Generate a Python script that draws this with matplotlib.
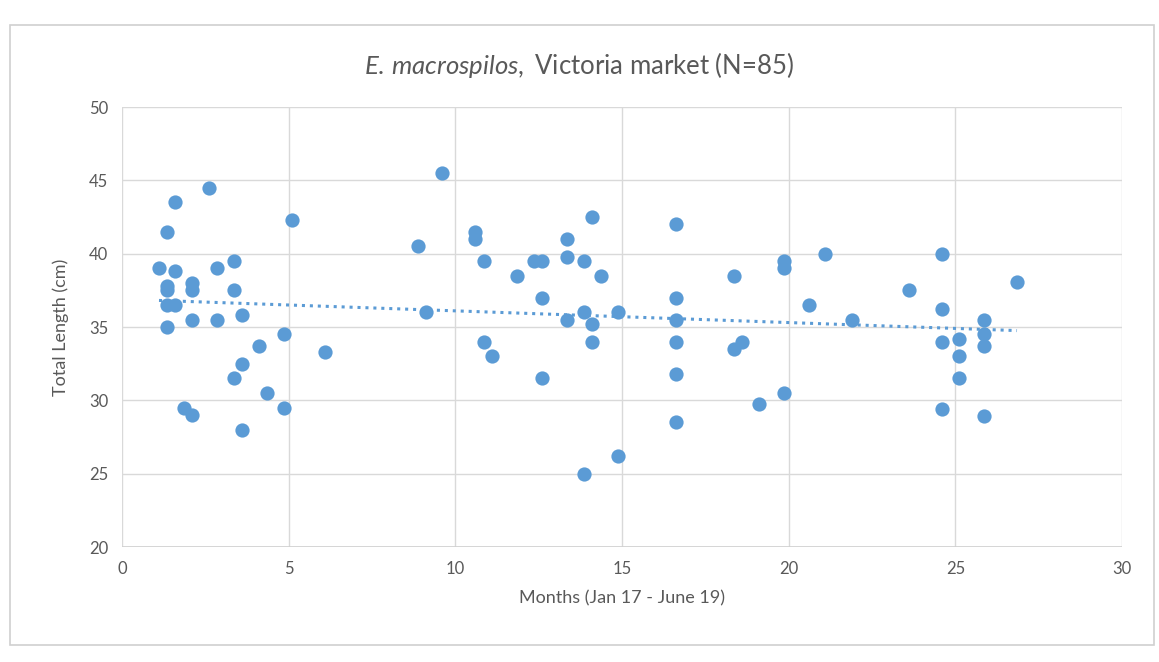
import numpy as np
import matplotlib
matplotlib.use("Agg")
import matplotlib.pyplot as plt
from matplotlib.patches import Rectangle

months = [1.11, 1.35, 1.35, 1.35, 1.35, 1.6, 1.35, 1.6, 1.6, 1.86,
          2.1, 2.1, 2.1, 2.1, 2.6, 2.85, 2.85, 3.36, 3.36, 3.36,
          3.6, 3.6, 3.6, 4.1, 4.35, 4.86, 4.86, 5.1, 6.1, 8.87,
          9.11, 9.6, 10.6, 10.6, 10.86, 10.86, 11.1, 11.86, 12.36, 12.6,
          12.6, 12.6, 13.36, 13.36, 13.36, 13.86, 13.86, 13.86, 14.1, 14.1,
          14.1, 14.36, 14.88, 14.88, 16.62, 16.62, 16.62, 16.62, 16.62, 16.62,
          18.36, 18.36, 18.6, 19.1, 19.86, 19.86, 19.86, 20.6, 21.1, 21.9,
          23.6, 24.6, 24.6, 24.6, 24.6, 25.1, 25.1, 25.1, 25.86, 25.86,
          25.86, 25.86, 26.85]
length_cm = [39.0, 41.5, 37.8, 37.5, 36.5, 36.5, 35.0, 43.5, 38.8, 29.5,
             38.0, 37.5, 35.5, 29.0, 44.5, 39.0, 35.5, 39.5, 37.5, 31.5,
             35.8, 32.5, 28.0, 33.7, 30.5, 34.5, 29.5, 42.3, 33.3, 40.5,
             36.0, 45.5, 41.5, 41.0, 39.5, 34.0, 33.0, 38.5, 39.5, 39.5,
             37.0, 31.5, 41.0, 39.75, 35.5, 39.5, 36.0, 25.0, 42.5, 35.2,
             34.0, 38.5, 36.0, 26.2, 42.0, 37.0, 35.5, 34.0, 31.8, 28.5,
             38.5, 33.5, 34.0, 29.75, 39.5, 39.0, 30.5, 36.5, 40.0, 35.5,
             37.5, 40.0, 36.2, 34.0, 29.4, 34.2, 33.0, 31.5, 35.5, 34.5,
             33.7, 28.9, 38.05]
x_ticks = [0, 5, 10, 15, 20, 25, 30]
y_ticks = [20, 25, 30, 35, 40, 45, 50]

plt.rcParams['font.family'] = ['Lato', 'DejaVu Sans']
plt.rcParams['mathtext.fontset'] = 'custom'
plt.rcParams['mathtext.rm'] = 'Lato'
plt.rcParams['mathtext.it'] = 'Lato:italic'

W, H = 1159, 662
fig = plt.figure(figsize=(W / 100, H / 100), dpi=100)
fig.patch.set_facecolor('white')

# outer chart frame
fig.patches.append(Rectangle((10 / W, 1 - 645 / H), (1154 - 10) / W, (645 - 25) / H,
                             transform=fig.transFigure, fill=False,
                             edgecolor='#d0d0d0', lw=1.2))

ax = fig.add_axes([122 / W, 1 - 547 / H, (1122 - 122) / W, (547 - 107) / H])
blue = '#5b9bd5'
ax.scatter(months, length_cm, s=105, color=blue, zorder=3, linewidths=0)

x = np.array(months)
y = np.array(length_cm)
m, b = np.polyfit(x, y, 1)
xs = np.array([x.min(), x.max()])
ax.plot(xs, m * xs + b, linestyle=(0, (1, 1.6)), color=blue, lw=2.2, zorder=2)

ax.set_xlim(0, 30)
ax.set_ylim(20, 50)
ax.set_xticks(x_ticks)
ax.set_yticks(y_ticks)
ax.grid(True, color='#d9d9d9', lw=1)
ax.set_axisbelow(True)
for s in ax.spines.values():
    s.set_visible(False)
ax.axhline(20, color='#d0d0d0', lw=1.2, zorder=1)
ax.tick_params(length=0, labelsize=12, colors='#595959', pad=10)

ax.set_xlabel('Months (Jan 17 - June 19)', fontsize=13, color='#595959', labelpad=10)
ax.set_ylabel('Total Length (cm)', fontsize=13, color='#595959', labelpad=14)

fig.text(0.5, 1 - 65 / H, r'$\mathit{E.\,macrospilos,}$' + ' Victoria market (N=85)',
         ha='center', va='center', fontsize=18.5, color='#595959')

fig.savefig('out.png', dpi=100)
